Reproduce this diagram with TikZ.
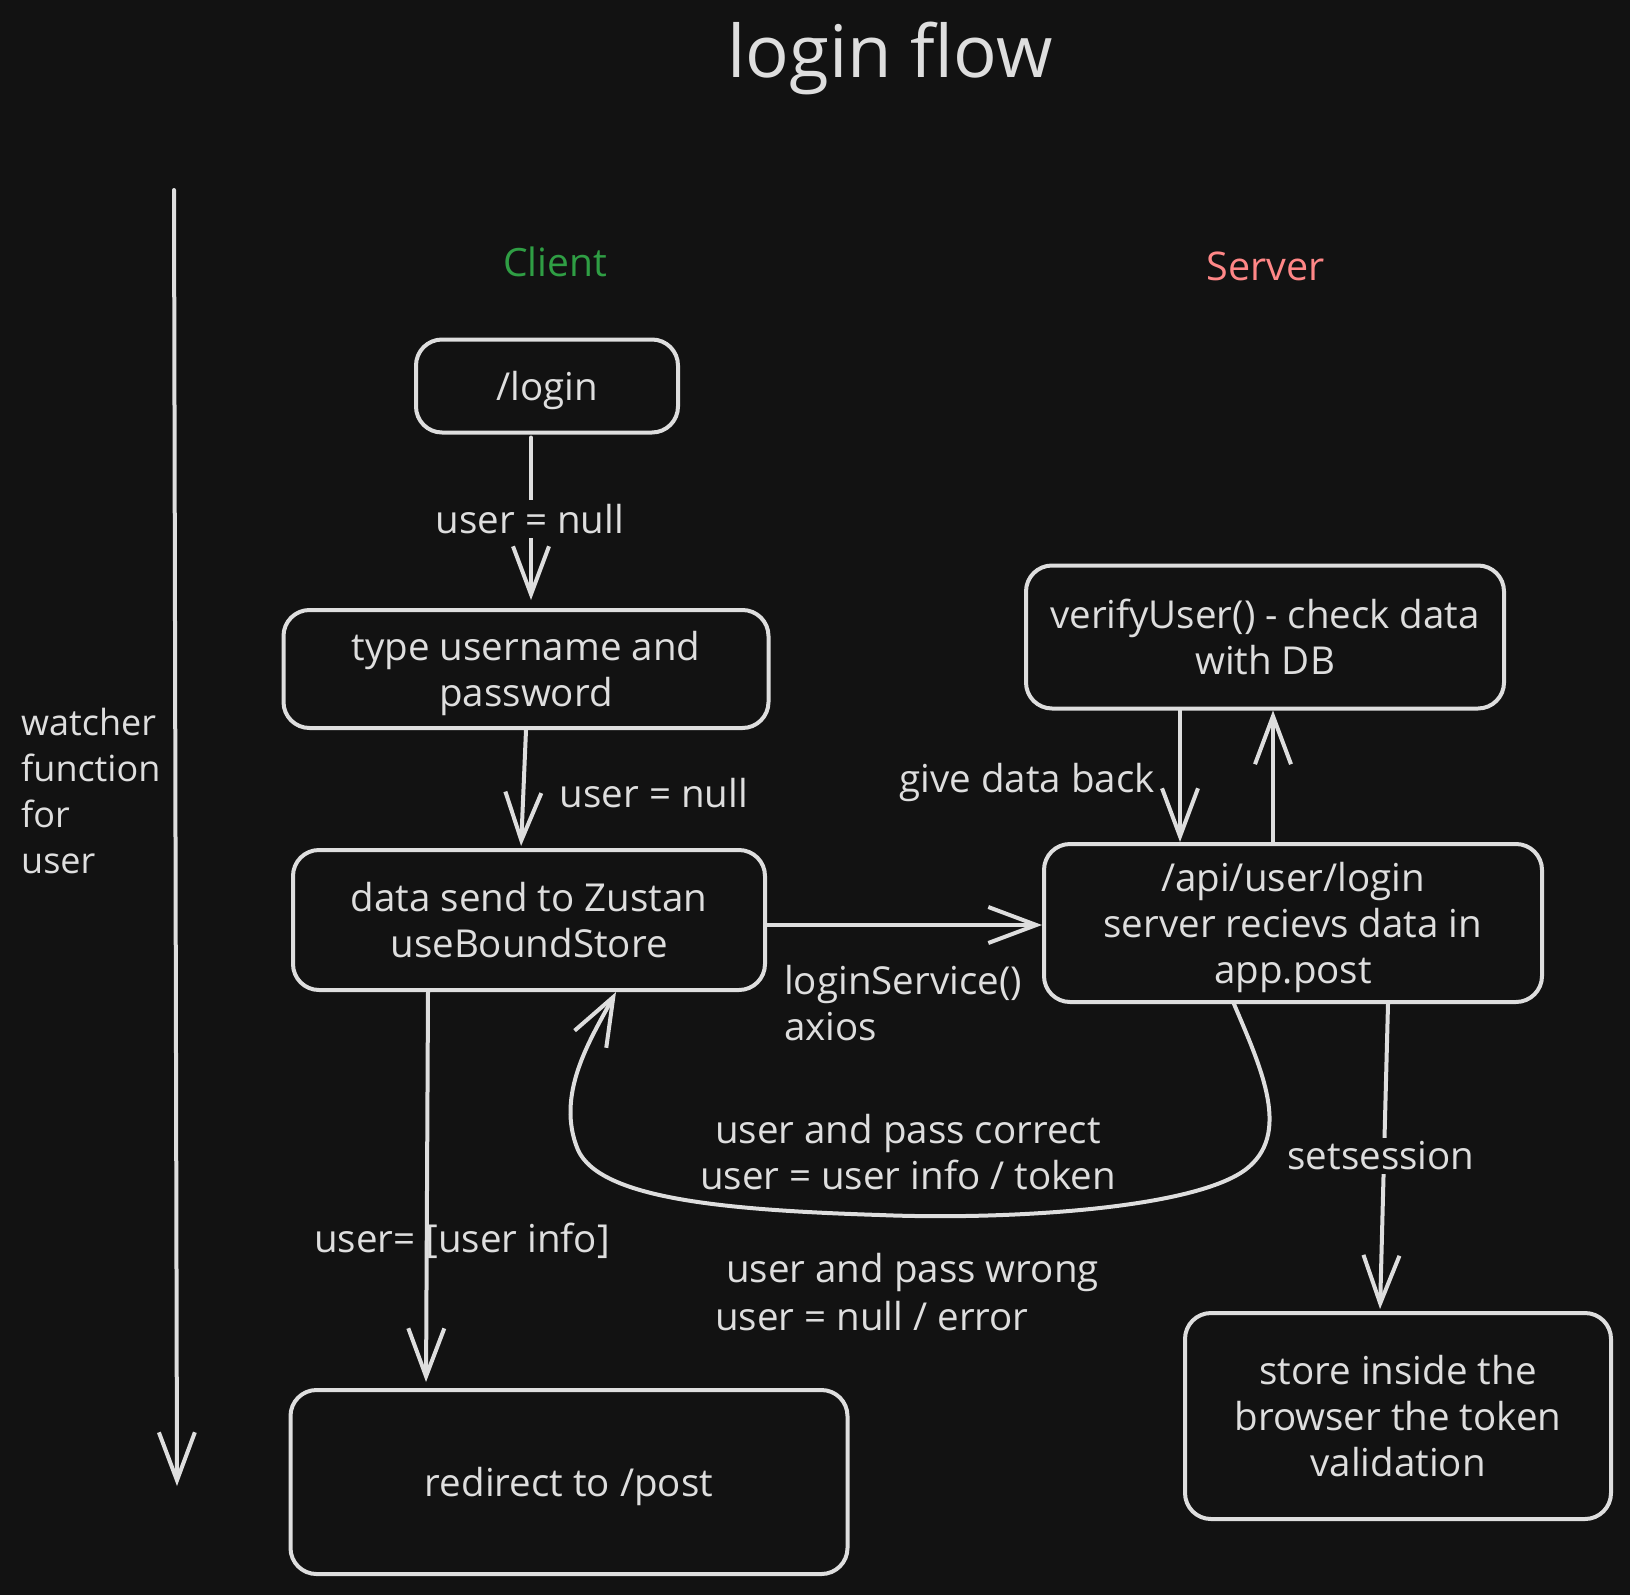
\documentclass[tikz,border=0pt]{standalone}
\usepackage{fontspec}
\setmainfont{Open Sans}
\usetikzlibrary{arrows.meta}
\definecolor{bg}{HTML}{121212}
\definecolor{ink}{HTML}{DEDEDE}
\definecolor{cgreen}{HTML}{2F9E44}
\definecolor{cred}{HTML}{FF8787}
\begin{document}
\begin{tikzpicture}[x=1pt,y=-1pt,
  box/.style={draw=ink, line width=4pt, rounded corners=26pt, inner sep=0pt},
  boxtext/.style={text=ink, align=center, font=\fontsize{38.5}{46}\selectfont, yshift=-4pt, inner sep=0pt},
  boxtextb/.style={boxtext, yshift=4pt},
  lbl/.style={text=ink, font=\fontsize{38.5}{46}\selectfont, inner sep=2pt},
  conn/.style={draw=ink, line width=4pt, line cap=round,
    -{Straight Barb[length=48pt,width=36pt,line width=4pt]}},
]
\fill[bg] (0,0) rectangle (1630,1595);
\useasboundingbox (0,0) rectangle (1630,1595);

% title and headings
\node[text=ink, font=\fontsize{72.5}{90}\selectfont, inner sep=0pt] (title) at (890,58) {login flow};
\node[text=cgreen, font=\fontsize{39}{46}\selectfont] (client) at (555,262) {Client};
\node[text=cred, font=\fontsize{39.5}{46}\selectfont] (server) at (1266,266) {Server};

% watcher
\coordinate (wtop) at (174,190);
\coordinate (wbot) at (177,1486);
\draw[conn] (wtop) -- (wbot);
\node[text=ink, font=\fontsize{36}{46}\selectfont, inner sep=2pt, align=left, anchor=west] (watch) at (19,791) {watcher\\function\\for\\user};

% boxes
\node[box, minimum width=262pt, minimum height=93pt, label={[boxtext]center:{/login}}] (login) at (547,386) {};
\node[box, minimum width=485pt, minimum height=118pt, label={[boxtext]center:{type username and\\password}}] (type) at (526,669) {};
\node[box, minimum width=472pt, minimum height=140pt, label={[boxtextb]center:{data send to Zustan\\useBoundStore}}] (data) at (529,920) {};
\node[box, minimum width=557pt, minimum height=184pt, label={[boxtext]center:{redirect to /post}}] (redir) at (569,1482) {};
\node[box, minimum width=478pt, minimum height=143pt, label={[boxtextb]center:{verifyUser() - check data\\with DB}}] (verify) at (1265,637) {};
\node[box, minimum width=498pt, minimum height=158pt, label={[boxtext]center:{/api/user/login\\server recievs data in\\app.post}}] (api) at (1293,923) {};
\node[box, minimum width=426pt, minimum height=206pt, label={[boxtextb]center:{store inside the\\browser the token\\validation}}] (store) at (1398,1416) {};

% connectors
\draw[conn, shorten <=3pt, shorten >=8pt] ([xshift=-16pt]login.south) -- ([xshift=5pt]type.north);
\node[lbl, fill=bg, inner sep=4pt] (l1) at (530,519) {user = null};

\draw[conn, shorten >=2pt] ([xshift=0pt]type.south) -- ([xshift=-8pt]data.north);
\node[lbl] (l2) at (654,793) {user = null};

\draw[conn] ([yshift=-5pt]data.east) -- ([yshift=-2pt]api.west);
\node[lbl, align=left, anchor=north west] (l3) at (782,963) {loginService()\\axios};

\draw[conn] ([xshift=-85pt]verify.south) -- ([xshift=-113pt]api.north);
\node[lbl] (l4) at (1027,782) {give data back};
\draw[conn] ([xshift=-20pt]api.north) -- ([xshift=8pt]verify.south);

\draw[conn, shorten >=2pt] ([xshift=95pt]api.south) -- ([xshift=-18pt]store.north);
\node[lbl, fill=bg, inner sep=4pt] (l5) at (1381,1156) {setsession};

\draw[conn] ([xshift=-59pt]api.south)
  .. controls (1262,1070) and (1292,1135) .. (1245,1170)
  .. controls (1190,1210) and (1000,1220) .. (880,1215)
  .. controls (720,1210) and (600,1198) .. (578,1150)
  .. controls (555,1095) and (590,1040) .. ([xshift=87pt]data.south);
\node[lbl, align=center] (l6) at (908,1152) {user and pass correct\\user = user info / token};

\node[lbl, anchor=west] (l7) at (724,1272) {user and pass wrong};
\node[lbl, anchor=west] (l8) at (713,1316) {user = null / error};

\draw[conn, shorten >=6pt] ([xshift=-101pt]data.south) -- ([xshift=-143pt]redir.north);
\node[lbl] (l9) at (462,1241) {user= [user info]};
\end{tikzpicture}
\end{document}
